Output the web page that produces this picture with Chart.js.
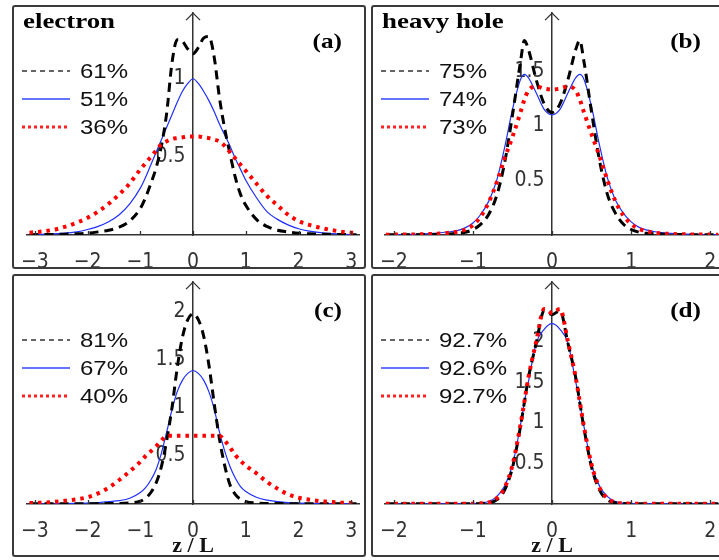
<!DOCTYPE html>
<html>
<head>
<meta charset="utf-8">
<script src="https://cdn.jsdelivr.net/npm/chart.js@4.4.0/dist/chart.umd.min.js"></script>
<style>
  body { margin: 0; width: 719px; height: 560px; overflow: hidden; background: #fff; position: relative; }
  .panel { position: absolute; width: 354px; box-sizing: border-box; border: 2px solid #3a3a3a; border-radius: 3px; }
  .panel canvas { display: block; }
</style>
</head>
<body>
<div class="panel" style="left:12px;top:5px;height:264px"><canvas id="panelA" width="350" height="260"></canvas></div>
<div class="panel" style="left:371px;top:5px;height:264px"><canvas id="panelB" width="350" height="260"></canvas></div>
<div class="panel" style="left:12px;top:274px;height:283px"><canvas id="panelC" width="350" height="279"></canvas></div>
<div class="panel" style="left:371px;top:274px;height:283px"><canvas id="panelD" width="350" height="279"></canvas></div>
<script>
// sample positions z / L
const xWide = [-3.1,-2.8,-2.5,-2.2,-2.0,-1.8,-1.6,-1.4,-1.2,-1.0,-0.9,-0.8,-0.7,-0.6,-0.5,-0.4,-0.3,-0.2,-0.1,0,
  0.1,0.2,0.3,0.4,0.5,0.6,0.7,0.8,0.9,1.0,1.2,1.4,1.6,1.8,2.0,2.2,2.5,2.8,3.1];
const xNarrow = [-2.1,-1.8,-1.5,-1.3,-1.2,-1.1,-1.0,-0.9,-0.8,-0.7,-0.6,-0.5,-0.4,-0.35,-0.3,-0.2,-0.1,0,
  0.1,0.2,0.3,0.35,0.4,0.5,0.6,0.7,0.8,0.9,1.0,1.1,1.2,1.3,1.5,1.8,2.1];

// (a) electron
const aLabels = ['61%', '51%', '36%'];
const aDashed = [0.002,0.003,0.005,0.008,0.012,0.02,0.03,0.05,0.09,0.17,0.24,0.33,0.43,0.57,0.78,1.1,1.25,1.24,1.19,1.16,
  1.2,1.26,1.27,1.14,0.88,0.68,0.52,0.37,0.26,0.19,0.1,0.055,0.03,0.02,0.012,0.008,0.005,0.003,0.002];
const aSolid = [0.002,0.005,0.01,0.02,0.035,0.055,0.085,0.13,0.2,0.3,0.37,0.45,0.53,0.61,0.69,0.77,0.85,0.92,0.97,1.0,
  0.97,0.92,0.86,0.79,0.71,0.64,0.57,0.49,0.42,0.35,0.24,0.15,0.1,0.065,0.04,0.025,0.012,0.006,0.002];
const aDotted = [0.015,0.025,0.045,0.08,0.11,0.15,0.2,0.26,0.33,0.42,0.46,0.5,0.54,0.58,0.6,0.615,0.62,0.625,0.63,0.63,
  0.63,0.625,0.62,0.61,0.6,0.57,0.53,0.49,0.45,0.41,0.33,0.25,0.19,0.13,0.09,0.065,0.04,0.022,0.012];

// (b) heavy hole
const bLabels = ['75%', '74%', '73%'];
const bDashed = [0.002,0.003,0.005,0.01,0.015,0.025,0.05,0.1,0.19,0.36,0.66,1.1,1.58,1.78,1.7,1.42,1.2,1.12,
  1.2,1.42,1.7,1.78,1.6,1.12,0.68,0.37,0.2,0.1,0.05,0.025,0.015,0.01,0.005,0.003,0.002];
const bSolid = [0.003,0.006,0.015,0.03,0.04,0.065,0.11,0.19,0.31,0.5,0.8,1.15,1.42,1.47,1.44,1.3,1.15,1.1,
  1.15,1.3,1.44,1.47,1.43,1.17,0.82,0.52,0.32,0.2,0.12,0.07,0.045,0.03,0.015,0.006,0.003];
const bDotted = [0.003,0.005,0.01,0.02,0.03,0.05,0.09,0.17,0.3,0.48,0.7,0.9,1.12,1.24,1.32,1.36,1.34,1.33,
  1.34,1.36,1.32,1.24,1.13,0.92,0.72,0.5,0.31,0.18,0.1,0.055,0.035,0.02,0.01,0.005,0.003];

// (c)
const cLabels = ['81%', '67%', '40%'];
const cDashed = [0.002,0.002,0.002,0.003,0.003,0.004,0.005,0.006,0.012,0.03,0.06,0.12,0.22,0.39,0.66,1.0,1.42,1.74,1.92,1.98,
  1.92,1.75,1.45,1.05,0.68,0.4,0.2,0.1,0.05,0.025,0.01,0.006,0.005,0.004,0.003,0.003,0.002,0.002,0.002];
const cSolid = [0.001,0.002,0.003,0.006,0.01,0.015,0.025,0.035,0.06,0.12,0.17,0.25,0.36,0.53,0.75,0.98,1.17,1.29,1.36,1.39,
  1.36,1.29,1.17,0.99,0.75,0.55,0.39,0.27,0.18,0.13,0.07,0.04,0.025,0.015,0.01,0.006,0.003,0.002,0.001];
const cDotted = [0.01,0.015,0.03,0.05,0.07,0.11,0.17,0.25,0.34,0.44,0.5,0.55,0.6,0.66,0.71,0.71,0.71,0.71,0.71,0.71,
  0.71,0.71,0.71,0.71,0.71,0.66,0.59,0.51,0.45,0.4,0.32,0.23,0.16,0.1,0.065,0.045,0.025,0.015,0.01];

// (d)
const dLabels = ['92.7%', '92.6%', '92.7%'];
const dDashed = [0.002,0.002,0.002,0.002,0.002,0.002,0.002,0.005,0.015,0.05,0.17,0.45,0.95,1.25,1.55,1.98,2.38,2.33,
  2.38,1.98,1.55,1.25,0.95,0.45,0.17,0.05,0.015,0.005,0.002,0.002,0.002,0.002,0.002,0.002,0.002];
const dSolid = [0.002,0.002,0.002,0.002,0.002,0.002,0.005,0.01,0.03,0.09,0.22,0.48,0.97,1.25,1.5,1.98,2.15,2.22,
  2.15,1.98,1.5,1.25,0.97,0.48,0.22,0.09,0.03,0.01,0.005,0.002,0.002,0.002,0.002,0.002,0.002];
const dDotted = [0.003,0.003,0.003,0.003,0.003,0.003,0.004,0.008,0.02,0.07,0.2,0.48,0.97,1.26,1.55,2.0,2.4,2.35,
  2.4,2.0,1.55,1.26,0.97,0.48,0.2,0.07,0.02,0.008,0.004,0.003,0.003,0.003,0.003,0.003,0.003];

// tick labels
const xTicksWide = [-3, -2, -1, 0, 1, 2, 3];
const xTicksNarrow = [-2, -1, 0, 1, 2];
const yTicksA = [0.5, 1];
const yTicksB = [0.5, 1, 1.5];
const yTicksC = [0.5, 1, 1.5, 2];
const yTicksD = [0.5, 1, 1.5, 2];

const tickFamily = '"Liberation Sans Narrow", "DejaVu Sans Condensed", "Liberation Sans", sans-serif';

function stretchedText(ctx, text, x, y, sx, align) {
    ctx.save();
    ctx.translate(x, y);
    ctx.scale(sx, 1);
    ctx.textAlign = align;
    ctx.fillText(text, 0, 0);
    ctx.restore();
}

// arrow on the y axis, small x ticks, panel title, tag and the legend
const panelDecor = {
    id: 'panelDecor',
    afterDraw(chart, args, opts) {
        const ctx = chart.ctx;
        const xs = chart.scales.x;
        const x0 = xs.getPixelForValue(0);
        const top = chart.chartArea.top;
        const bottom = chart.chartArea.bottom;
        ctx.save();
        ctx.strokeStyle = '#333';
        ctx.lineWidth = 1.3;
        ctx.beginPath();
        ctx.moveTo(x0 - 7, top + 7);
        ctx.lineTo(x0, top);
        ctx.lineTo(x0 + 7, top + 7);
        xs.ticks.forEach(t => {
            const px = Math.round(xs.getPixelForValue(t.value)) + 0.5;
            ctx.moveTo(px, bottom);
            ctx.lineTo(px, bottom - 4);
        });
        ctx.stroke();

        ctx.fillStyle = '#000';
        ctx.textBaseline = 'alphabetic';
        ctx.font = 'bold 21px "Liberation Serif", serif';
        if (opts.title) stretchedText(ctx, opts.title, 9, 21, 1.28, 'left');
        stretchedText(ctx, opts.tag, 328, 41, 1.2, 'right');

        const rows = [64, 92, 120];
        const legendStyle = [
            { color: '#333', width: 1.5, dash: [5, 4] },
            { color: '#3344ff', width: 1.5, dash: [] },
            { color: '#ff2222', width: 3, dash: [3, 3] }
        ];
        chart.data.datasets.forEach((ds, i) => {
            const st = legendStyle[i];
            ctx.strokeStyle = st.color;
            ctx.lineWidth = st.width;
            ctx.setLineDash(st.dash);
            ctx.beginPath();
            ctx.moveTo(8, rows[i]);
            ctx.lineTo(56, rows[i]);
            ctx.stroke();
            ctx.setLineDash([]);
            ctx.fillStyle = '#111';
            ctx.font = '20px "Liberation Sans", Arial, sans-serif';
            stretchedText(ctx, ds.label, 66, rows[i] + 7, 1.2, 'left');
        });
        ctx.restore();
    }
};

function toPoints(xs, ys) {
    return xs.map((x, i) => ({ x: x, y: ys[i] }));
}

function makePanel(id, p) {
    const ctx = document.getElementById(id).getContext('2d');
    new Chart(ctx, {
        type: 'line',
        data: {
            datasets: [
                { label: p.labels[0], data: toPoints(p.xs, p.dashed), borderColor: '#000', borderWidth: 3, borderDash: [9, 6], order: 1 },
                { label: p.labels[1], data: toPoints(p.xs, p.solid), borderColor: '#1f2fff', borderWidth: 1.2, order: 2 },
                { label: p.labels[2], data: toPoints(p.xs, p.dotted), borderColor: '#ff0000', borderWidth: 4, borderDash: [3.5, 5], order: 0 }
            ]
        },
        options: {
            responsive: false,
            animation: false,
            events: [],
            devicePixelRatio: 1,
            layout: { padding: { top: 4, left: 0, right: 0, bottom: 0 } },
            elements: {
                point: { radius: 0 },
                line: { cubicInterpolationMode: 'monotone', fill: false }
            },
            plugins: {
                legend: { display: false },
                tooltip: { enabled: false },
                panelDecor: { title: p.title, tag: p.tag }
            },
            scales: {
                x: {
                    type: 'linear',
                    min: -p.xRange,
                    max: p.xRange,
                    position: 'bottom',
                    afterBuildTicks: s => { s.ticks = p.xTicks.map(v => ({ value: v })); },
                    afterFit: s => { s.height = p.axisHeight; },
                    grid: { display: false },
                    border: { display: true, color: '#333', width: 1.5 },
                    ticks: {
                        font: { family: tickFamily, size: 21 }, color: '#333', padding: 7, maxRotation: 0, autoSkip: false,
                        callback: v => String(v).replace('-', '\u2212')
                    },
                    title: {
                        display: !!p.xTitle,
                        text: p.xTitle || '',
                        color: '#111',
                        padding: 0,
                        font: { family: '"Liberation Serif", serif', size: 22, weight: 'bold', lineHeight: 0.8 }
                    }
                },
                y: {
                    type: 'linear',
                    min: 0,
                    max: p.yMax,
                    position: { x: 0 },
                    afterBuildTicks: s => { s.ticks = p.yTicks.map(v => ({ value: v })); },
                    grid: { display: false },
                    border: { display: true, color: '#333', width: 1.5 },
                    ticks: {
                        font: { family: tickFamily, size: 21, lineHeight: 0.3 }, color: '#333',
                        callback: v => v + '\u2009\u2009'
                    }
                }
            }
        },
        plugins: [panelDecor]
    });
}

makePanel('panelA', { xs: xWide, dashed: aDashed, solid: aSolid, dotted: aDotted, labels: aLabels,
    xRange: 3.15, xTicks: xTicksWide, yMax: 1.42, yTicks: yTicksA, axisHeight: 32, title: 'electron', tag: '(a)' });
makePanel('panelB', { xs: xNarrow, dashed: bDashed, solid: bSolid, dotted: bDotted, labels: bLabels,
    xRange: 2.12, xTicks: xTicksNarrow, yMax: 2.03, yTicks: yTicksB, axisHeight: 32, title: 'heavy hole', tag: '(b)' });
makePanel('panelC', { xs: xWide, dashed: cDashed, solid: cSolid, dotted: cDotted, labels: cLabels,
    xRange: 3.15, xTicks: xTicksWide, yMax: 2.31, yTicks: yTicksC, axisHeight: 51, tag: '(c)', xTitle: 'z / L' });
makePanel('panelD', { xs: xNarrow, dashed: dDashed, solid: dSolid, dotted: dDotted, labels: dLabels,
    xRange: 2.12, xTicks: xTicksNarrow, yMax: 2.73, yTicks: yTicksD, axisHeight: 51, tag: '(d)', xTitle: 'z / L' });
</script>
</body>
</html>
